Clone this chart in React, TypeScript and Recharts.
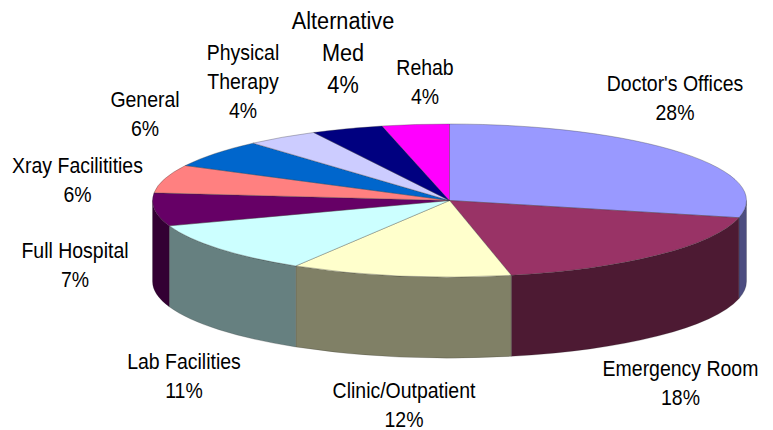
import React from "react";
import { Cell, Pie, PieChart } from "recharts";

const names = [
  "Doctor's Offices",
  "Emergency Room",
  "Clinic/Outpatient",
  "Lab Facilities",
  "Full Hospital",
  "Xray Facilitities",
  "General",
  "Physical\nTherapy",
  "Alternative\nMed",
  "Rehab",
];
const shares = [28, 18, 12, 11, 7, 6, 6, 4, 4, 4];

const topColors = ["#9999ff", "#993366", "#ffffcc", "#ccffff", "#660066", "#ff8080", "#0066cc", "#ccccff", "#000080", "#ff00ff"];
const wallColors = ["#4d4d80", "#4d1a33", "#808066", "#668080", "#330033", "#804040", "#003366", "#666680", "#000040", "#800080"];

// label centre x and first baseline, these are hand placed like in the original
const labelSpots = [
  [675, 90],
  [680.5, 375],
  [404, 397],
  [184, 368],
  [75, 257],
  [77.5, 172],
  [145, 106],
  [243, 59],
  [343, 28],
  [425, 74],
];

const chartData = names.map((name, i) => ({ name, value: shares[i] }));

const CX = 449.5;
const CY = 200.5;
const RX = 297;
const RY = 76.5;
const DEPTH = 81;

// recharts angle -> clockwise from 12 o'clock, with the slight drift of the 3D view
const clockAngle = (deg: number) => {
  const a = 90 - deg;
  return a + 2.4 * Math.pow(Math.abs(Math.sin((a * Math.PI) / 360)), 0.3);
};

const rimPoint = (a: number, dy = 0) => {
  const rad = (a * Math.PI) / 180;
  return `${CX + RX * Math.sin(rad)} ${CY - RY * Math.cos(rad) + dy}`;
};

function TopSlice(props: any) {
  const a1 = clockAngle(props.startAngle);
  const a2 = clockAngle(props.endAngle);
  const large = a2 - a1 > 180 ? 1 : 0;
  const d = `M ${CX} ${CY} L ${rimPoint(a1)} A ${RX} ${RY} 0 ${large} 1 ${rimPoint(a2)} Z`;
  return <path d={d} fill={props.fill} stroke="#333" strokeOpacity={0.45} strokeWidth={0.7} />;
}

function WallSlice(props: any) {
  // only the front half of the rim can be seen
  const a1 = Math.max(clockAngle(props.startAngle), 90);
  const a2 = Math.min(clockAngle(props.endAngle), 270);
  if (a2 <= a1) return null;
  const d =
    `M ${rimPoint(a1)} A ${RX} ${RY} 0 0 1 ${rimPoint(a2)} ` +
    `L ${rimPoint(a2, DEPTH)} A ${RX} ${RY} 0 0 0 ${rimPoint(a1, DEPTH)} Z`;
  return <path d={d} fill={props.fill} stroke="#222" strokeOpacity={0.35} strokeWidth={0.6} />;
}

function SliceLabel(props: any) {
  const [x, y] = labelSpots[props.index];
  const lines = [...names[props.index].split("\n"), `${shares[props.index]}%`];
  // the Alternative Med label is set a bit bigger in the original
  const big = names[props.index].startsWith("Alternative");
  return (
    <text
      transform={`translate(${x} ${y + 1}) scale(0.885 1)`}
      textAnchor="middle"
      fill="#000"
      fontFamily="Liberation Sans"
      fontSize={big ? 24.5 : 22}
    >
      {lines.map((line, i) => (
        <tspan key={line} x={0} dy={i === 0 ? 0 : big ? 32 : 29}>
          {line}
        </tspan>
      ))}
    </text>
  );
}

export default function App(): React.ReactElement {
  return (
    <div style={{ position: "absolute", left: 0, top: 0, width: 773, height: 430, background: "#fff" }}>
      <PieChart width={773} height={430} margin={{ top: 0, right: 0, bottom: 0, left: 0 }}>
        <Pie
          data={chartData}
          dataKey="value"
          cx={CX}
          cy={CY}
          outerRadius={RX}
          startAngle={90}
          endAngle={-270}
          shape={WallSlice}
          stroke="none"
          isAnimationActive={false}
        >
          {chartData.map((row, i) => (
            <Cell key={row.name} fill={wallColors[i]} />
          ))}
        </Pie>
        <Pie
          data={chartData}
          dataKey="value"
          cx={CX}
          cy={CY}
          outerRadius={RX}
          startAngle={90}
          endAngle={-270}
          shape={TopSlice}
          label={SliceLabel}
          labelLine={false}
          isAnimationActive={false}
        >
          {chartData.map((row, i) => (
            <Cell key={row.name} fill={topColors[i]} />
          ))}
        </Pie>
      </PieChart>
    </div>
  );
}
